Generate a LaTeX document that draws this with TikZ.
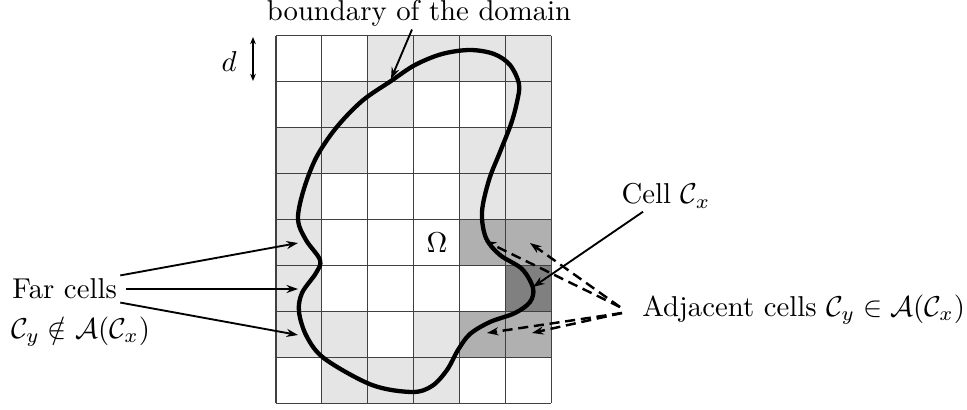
\documentclass[tikz,border=0pt]{standalone}
\usepackage{amsmath,amssymb}
\usetikzlibrary{arrows.meta}
\begin{document}
\begin{tikzpicture}[x=0.348pt,y=-0.348pt,
  lightcell/.style={fill=black!10},
  midcell/.style={fill=black!31},
  darkcell/.style={fill=black!50},
  gridline/.style={draw=black!75,line width=0.4pt},
  boundary/.style={draw=black,line width=1.5pt},
  arr/.style={draw=black,line width=0.65pt,-{Stealth[length=4pt,width=2.8pt]}},
  dasharr/.style={draw=black,line width=0.85pt,dash pattern=on 3.5pt off 2pt,-{Stealth[length=4pt,width=2.8pt]}},
  lbl/.style={inner sep=1pt,font=\normalsize}]
\useasboundingbox (0,0) rectangle (967,410);
% cells
\foreach \r/\c in {0/2,0/3,0/4,0/5,1/1,1/2,1/5,2/0,2/1,2/4,2/5,3/0,3/4,3/5,4/0,5/0,6/0,6/1,6/3,7/1,7/2,7/3}
  \fill[lightcell] ({276+\c*45.9},{35.7+\r*45.95}) rectangle ++(45.9,45.95);
\foreach \r/\c in {4/4,4/5,6/4,6/5}
  \fill[midcell] ({276+\c*45.9},{35.7+\r*45.95}) rectangle ++(45.9,45.95);
\foreach \r/\c in {5/5}
  \fill[darkcell] ({276+\c*45.9},{35.7+\r*45.95}) rectangle ++(45.9,45.95);
% grid
\foreach \c in {0,...,6}
  \draw[gridline] ({276+\c*45.9},35.7) -- ({276+\c*45.9},403.3);
\foreach \r in {0,...,8}
  \draw[gridline] (276,{35.7+\r*45.95}) -- (551.4,{35.7+\r*45.95});
% boundary curve
\draw[boundary] plot[smooth cycle, tension=0.55] coordinates {
  (391,81) (415,65) (442,54) (470,50) (494,54) (510,65) (519,84) (517,102)
  (511,124) (500,152) (489,180) (482,212) (486,238) (500,255) (522,269)
  (533,288) (530,302) (515,313) (490,322) (470,334) (458,350) (447,370)
  (432,386) (412,392) (372,385) (325,359) (307,337) (299,312) (302,293)
  (316,273) (320,260) (306,240) (298,220) (303,192) (316,158) (336,128)
  (362,101)};
% labels
\node[lbl] (bdlabel) at (419,13) {boundary of the domain};
\coordinate (bdtip) at (391,79);
\draw[arr] (bdlabel) -- (bdtip);
\node[lbl] (dlabel) at (229,62) {$d$};
\coordinate (dtop) at (253,37);
\coordinate (dbot) at (253,81);
\draw[line width=0.45pt,{Stealth[length=2.5pt,width=2pt]}-{Stealth[length=2.5pt,width=2pt]}] (dtop) -- (dbot);
\node[lbl] (omega) at (437,243) {$\Omega$};
% far cells
\node[lbl,anchor=west] (far) at (9,289) {Far cells};
\node[lbl,anchor=west,inner sep=0.5pt] (farmath) at (9,332) {$\mathcal{C}_y \notin \mathcal{A}(\mathcal{C}_x)$};
\coordinate (farA) at (298,243);
\coordinate (farB) at (298,289);
\coordinate (farC) at (298,335);
\draw[arr] (far.north east) -- (farA);
\draw[arr] ([xshift=2pt]far.east) -- (farB);
\draw[arr] (far.south east) -- (farC);
% cell Cx
\node[lbl] (cell) at (666,196) {Cell $\mathcal{C}_x$};
\coordinate (cxtip) at (533,287);
\draw[arr] (cell) -- (cxtip);
% adjacent cells
\node[lbl,anchor=west] (adj) at (639,310) {Adjacent cells $\mathcal{C}_y \in \mathcal{A}(\mathcal{C}_x)$};
\coordinate (adjU) at (620,307);
\coordinate (adjL) at (622,313);
\coordinate (adjA) at (485,241);
\coordinate (adjB) at (530,243);
\coordinate (adjC) at (487,333);
\coordinate (adjD) at (532,333);
\draw[dasharr] (adjU) -- (adjA);
\draw[dasharr] (adjU) -- (adjB);
\draw[dasharr] (adjL) -- (adjC);
\draw[dasharr] (adjL) -- (adjD);
\end{tikzpicture}
\end{document}
